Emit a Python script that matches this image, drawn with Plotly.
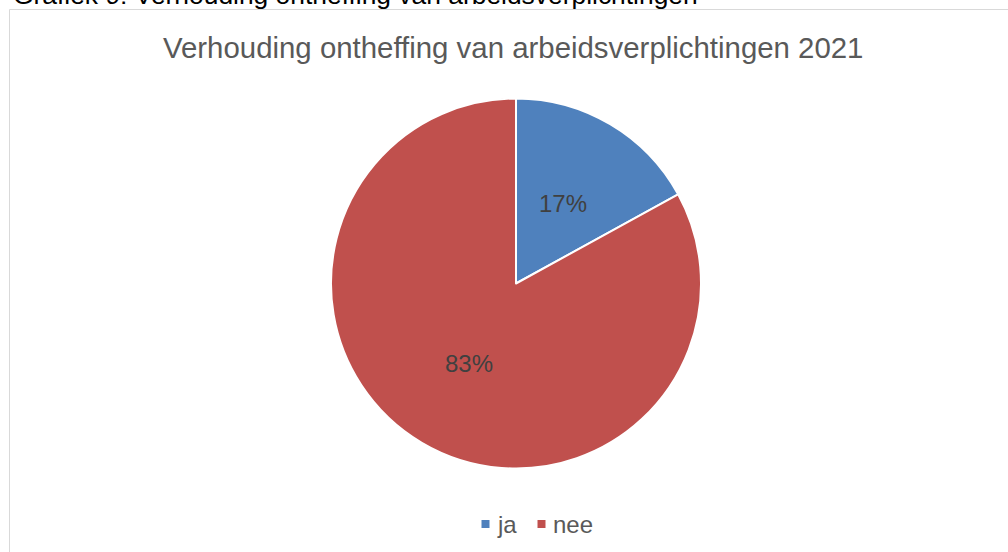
import math

import plotly.graph_objects as go

W, H = 1008, 552

categories = ["ja", "nee"]
values = [17, 83]
colors = ["#4F81BD", "#C0504D"]

page_caption = "Grafiek 9: Verhouding ontheffing van arbeidsverplichtingen"
chart_title = "Verhouding ontheffing van arbeidsverplichtingen 2021"

FONT = "Liberation Sans, Arial, sans-serif"

# pie geometry in pixels
CX, CY, R = 516, 283.5, 185


def px(x):
    return x / W


def py(y):
    return 1 - y / H


fig = go.Figure()

fig.add_trace(go.Pie(
    labels=categories,
    values=values,
    marker=dict(colors=colors, line=dict(color="white", width=2)),
    sort=False,
    direction="clockwise",
    rotation=0,
    textinfo="none",
    hoverinfo="label+percent",
    showlegend=False,
    domain=dict(x=[px(CX - R), px(CX + R)], y=[py(CY + R), py(CY - R)]),
))

annotations = []

# percentage labels, halfway along each slice's bisector
total = sum(values)
start = 0.0
for v in values:
    mid = (start + v / 2) / total * 2 * math.pi
    start += v
    lx = CX + 0.5 * R * math.sin(mid)
    ly = CY - 0.5 * R * math.cos(mid)
    annotations.append(dict(
        x=px(lx), y=py(ly), xref="paper", yref="paper",
        text="{:.0f}%".format(100 * v / total), showarrow=False,
        font=dict(family=FONT, size=24, color="#404040"),
        xanchor="center", yanchor="middle",
    ))

# chart title
annotations.append(dict(
    x=px(513), y=py(48), xref="paper", yref="paper",
    text=chart_title, showarrow=False,
    font=dict(family=FONT, size=29.4, color="#595959"),
    xanchor="center", yanchor="middle",
))

# caption from the document, cut off at the top
annotations.append(dict(
    x=px(11), y=py(-5), xref="paper", yref="paper",
    text=page_caption, showarrow=False,
    font=dict(family=FONT, size=26.4, color="#000000"),
    xanchor="left", yanchor="middle",
))

# custom legend
shapes = []
legend_x = [481.5, 537.5]
legend_y = 524
for name, col, lx in zip(categories, colors, legend_x):
    shapes.append(dict(
        type="rect", xref="paper", yref="paper",
        x0=px(lx), x1=px(lx + 8), y0=py(legend_y + 4), y1=py(legend_y - 4),
        fillcolor=col, line=dict(width=0),
    ))
    annotations.append(dict(
        x=px(lx + 13), y=py(legend_y), xref="paper", yref="paper",
        text=name, showarrow=False,
        font=dict(family=FONT, size=24, color="#595959"),
        xanchor="left", yanchor="middle",
    ))

# chart border
shapes.append(dict(
    type="rect", xref="paper", yref="paper",
    x0=px(9.5), x1=px(1012), y0=py(560), y1=py(9.5),
    line=dict(color="#D9D9D9", width=1), fillcolor="rgba(0,0,0,0)",
))

fig.update_layout(
    width=W, height=H,
    margin=dict(l=0, r=0, t=0, b=0),
    paper_bgcolor="white",
    plot_bgcolor="white",
    annotations=annotations,
    shapes=shapes,
    showlegend=False,
)

# page margin off so the figure sits at the window's corner
fig.write_html(
    "out.html",
    config={"displayModeBar": False},
    post_script="document.body.style.margin='0';",
)
